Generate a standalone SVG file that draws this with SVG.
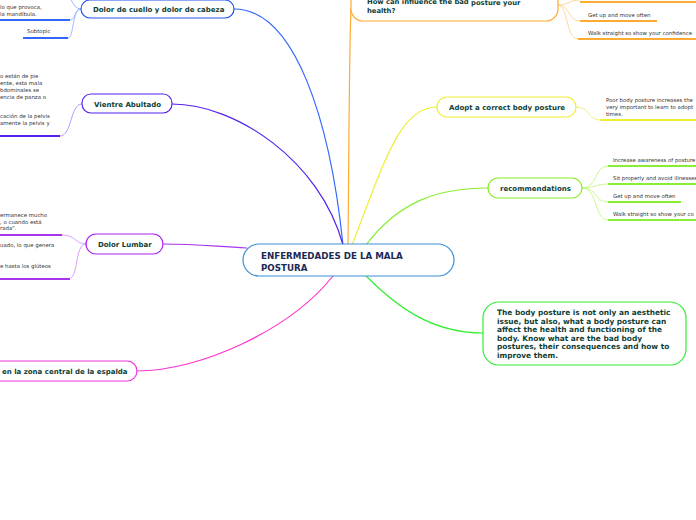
<svg xmlns="http://www.w3.org/2000/svg" width="696" height="520" viewBox="0 0 696 520">
<style>
.nt{font-family:"DejaVu Sans",Verdana,sans-serif;font-weight:bold;font-size:7px;fill:#0f4035}
.st{font-family:"DejaVu Sans",Verdana,sans-serif;font-size:5.4px;fill:#333}
.nd{fill:#fff;stroke-width:1.2}
.c{fill:none;stroke-width:1.2}
.sc{fill:none;stroke-width:0.8}
.ul{fill:none;stroke-width:2}
.ct{font-size:8.7px;fill:#1b2a55}
.bt{font-size:7.4px}
</style>
<rect width="696" height="520" fill="#fff"/>
<g id="connectors">
<path class="c" stroke="#3366ff" d="M343,245 C330,120 295,9 234,9"/>
<path class="c" stroke="#5522ee" d="M343,245 C320,160 235,104 172,104"/>
<path class="c" stroke="#ffaa33" d="M348,245 C349,150 349,60 351,8"/>
<path class="c" stroke="#eeee33" d="M352,245 C385,160 400,107 437,107"/>
<path class="c" stroke="#88ee33" d="M366,245 C400,200 440,188 488,188"/>
<path class="c" stroke="#33ee33" d="M366,276 C395,305 430,333 483,333"/>
<path class="c" stroke="#ff33cc" d="M333,276 C290,330 200,371 137,371"/>
<path class="c" stroke="#aa33ee" d="M247,248 C210,246 195,244 163,244"/>
<path class="sc" stroke="#88aaff" d="M81,9 C74,9 76,20 70,20"/>
<path class="sc" stroke="#88aaff" d="M81,9 C72,9 74,38 68,38"/>
<path class="sc" stroke="#88aaff" d="M81,9 C72,9 72,-5 65,-5"/>
<path class="sc" stroke="#9988ff" d="M82,104 C70,104 72,136 60,136"/>
<path class="sc" stroke="#cc88ff" d="M86,244 C75,244 76,235 62,235"/>
<path class="sc" stroke="#cc88ff" d="M86,244 C75,244 78,278 70,278"/>
<path class="sc" stroke="#ffcc88" d="M558,5 C570,5 568,0 580,0"/>
<path class="sc" stroke="#ffcc88" d="M558,5 C570,5 568,21 580,21"/>
<path class="sc" stroke="#ffcc88" d="M558,5 C568,5 566,39 578,39"/>
<path class="sc" stroke="#eeee66" d="M576,107 C590,107 588,120 600,120"/>
<path class="sc" stroke="#bbf577" d="M582,188 C598,188 594,166 608,166"/>
<path class="sc" stroke="#bbf577" d="M582,188 C598,188 594,184 608,184"/>
<path class="sc" stroke="#bbf577" d="M582,188 C598,188 594,202 608,202"/>
<path class="sc" stroke="#bbf577" d="M582,188 C598,188 594,220 608,220"/>
</g>
<g id="central">
<rect class="nd" x="243" y="244" width="211" height="32" rx="16" stroke="#3a8fd6"/>
<text class="nt ct" x="261" y="258.5">ENFERMEDADES DE LA MALA</text>
<text class="nt ct" x="261" y="270.5">POSTURA</text>
</g>
<g id="dolor-cuello">
<rect class="nd" x="81" y="0" width="153" height="18" rx="9" stroke="#2255ee"/>
<text class="nt" x="93" y="12">Dolor de cuello y dolor de cabeza</text>
<text class="st" x="0" y="9">  lo que provoca,</text>
<text class="st" x="0" y="16">la mandíbula.</text>
<path class="ul" stroke="#3366ff" d="M0,20 H70"/>
<text class="st" x="27" y="33">Subtopic</text>
<path class="ul" stroke="#3366ff" d="M23,38 H68"/>
</g>
<g id="vientre">
<rect class="nd" x="82" y="94" width="90" height="19" rx="9" stroke="#5522ee"/>
<text class="nt" x="94" y="107">Vientre Abultado</text>
<text class="st" x="0" y="78">o están de pie</text>
<text class="st" x="0" y="85">ente, esta mala</text>
<text class="st" x="0" y="92">bdominales se</text>
<text class="st" x="0" y="99">encia de panza o</text>
<text class="st" x="0" y="118">cación de la pelvis</text>
<text class="st" x="0" y="125">amente la pelvis y</text>
<path class="ul" stroke="#5522ee" d="M0,136 H60"/>
</g>
<g id="lumbar">
<rect class="nd" x="86" y="234" width="77" height="20" rx="10" stroke="#aa22ee"/>
<text class="nt" x="98" y="247">Dolor Lumbar</text>
<text class="st" x="0" y="217">ermanece mucho</text>
<text class="st" x="0" y="224">, o cuando está</text>
<text class="st" x="0" y="230">rada".</text>
<path class="ul" stroke="#aa33ee" d="M0,235 H62"/>
<text class="st" x="0" y="247">uado, lo que genera</text>
<text class="st" x="0" y="268">e hasta los glúteos</text>
<path class="ul" stroke="#aa33ee" d="M0,279 H70"/>
</g>
<g id="espalda">
<rect class="nd" x="-20" y="361" width="157" height="20" rx="10" stroke="#ee33dd"/>
<text class="nt" x="2" y="374">en la zona central de la espalda</text>
</g>
<g id="how">
<rect class="nd" x="351" y="-10" width="207" height="31" rx="12" stroke="#ffaa33"/>
<text class="nt" style="font-size:6.8px" x="367" y="4">How can influence the bad <tspan y="5">posture your</tspan></text>
<text class="nt" style="font-size:6.8px" x="367" y="13">health?</text>
<path class="ul" stroke="#ffaa33" d="M580,2 H696"/>
<text class="st" x="588" y="17">Get up and move often</text>
<path class="ul" stroke="#ffaa33" d="M580,21 H657"/>
<text class="st" x="588" y="35">Walk straight so show your confidence</text>
<path class="ul" stroke="#ffaa33" d="M578,39 H696"/>
</g>
<g id="adopt">
<rect class="nd" x="437" y="97" width="139" height="20" rx="10" stroke="#eeee33"/>
<text class="nt" x="449" y="110">Adopt a correct body posture</text>
<text class="st" x="606" y="102">Poor body posture increases the</text>
<text class="st" x="606" y="109">very important to learn to adopt</text>
<text class="st" x="606" y="116">times.</text>
<path class="ul" stroke="#eeee33" d="M600,120 H696"/>
</g>
<g id="recommendations">
<rect class="nd" x="488" y="178" width="94" height="20" rx="10" stroke="#88ee22"/>
<text class="nt" x="500" y="191">recommendations</text>
<text class="st" x="613" y="162">Increase awareness of posture</text>
<path class="ul" stroke="#88ee33" d="M608,166 H696"/>
<text class="st" x="613" y="180">Sit properly and avoid illnesses</text>
<path class="ul" stroke="#88ee33" d="M608,184 H696"/>
<text class="st" x="613" y="198">Get up and move often</text>
<path class="ul" stroke="#88ee33" d="M608,202 H681"/>
<text class="st" x="613" y="216">Walk straight so show your co</text>
<path class="ul" stroke="#88ee33" d="M608,220 H696"/>
</g>
<g id="body-posture">
<rect class="nd" x="483" y="302" width="203" height="63" rx="16" stroke="#33ee33"/>
<text class="nt bt" x="497" y="315">The body posture is not only an aesthetic</text>
<text class="nt bt" x="497" y="323.5">issue, but also, what a body posture can</text>
<text class="nt bt" x="497" y="332">affect the health and functioning of the</text>
<text class="nt bt" x="497" y="340.5">body. Know what are the bad body</text>
<text class="nt bt" x="497" y="349">postures, their consequences and how to</text>
<text class="nt bt" x="497" y="357.5">improve them.</text>
</g>
</svg>
